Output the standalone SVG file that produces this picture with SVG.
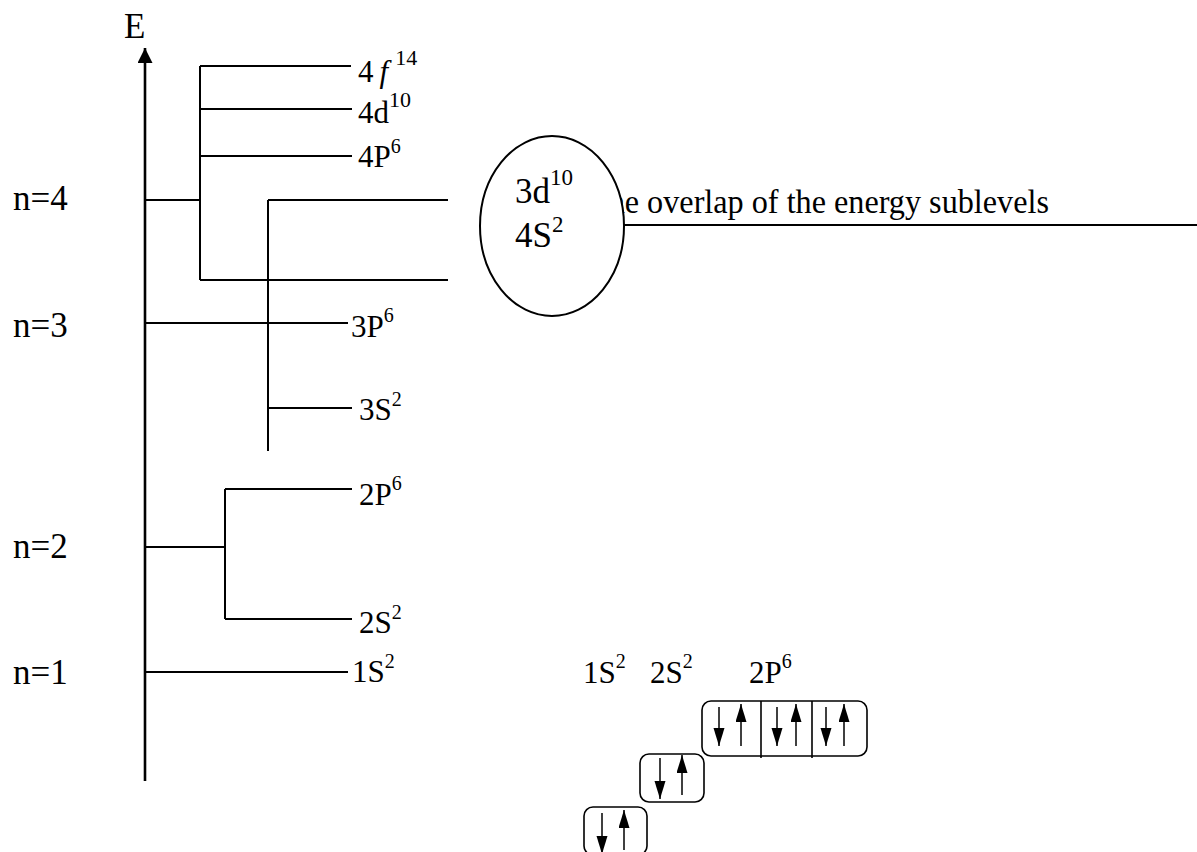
<svg xmlns="http://www.w3.org/2000/svg" width="1197" height="852" viewBox="0 0 1197 852">
  <style>
    text { font-family: "Liberation Serif", "Times New Roman", serif; fill: #000; }
    .lbl { font-size: 31px; }
    .big { font-size: 35px; }
    .sup { font-size: 20px; }
    .lvl { stroke: #000; stroke-width: 2; fill: none; }
    .axis { stroke: #000; stroke-width: 2.6; fill: none; }
    .box { stroke: #000; stroke-width: 1.6; fill: none; }
    .spin { stroke: #000; stroke-width: 1.5; fill: none; }
  </style>
  <defs>
    <marker id="axisHead" markerUnits="userSpaceOnUse" markerWidth="16" markerHeight="16" refX="15" refY="7.5" orient="auto">
      <path d="M0,0 L15,7.5 L0,15 z" fill="#000"/>
    </marker>
    <marker id="spinHead" markerUnits="userSpaceOnUse" markerWidth="19" markerHeight="12" refX="18" refY="5.5" orient="auto">
      <path d="M0,0 L18,5.5 L0,11 z" fill="#000"/>
    </marker>
  </defs>

  <rect width="1197" height="852" fill="#fff"/>

  <!-- energy axis and sublevel connectors -->
  <g id="connectors">
    <line class="axis" x1="145" y1="781" x2="145" y2="48" marker-end="url(#axisHead)"/>
    <!-- shell 4 -->
    <line class="lvl" x1="145" y1="200" x2="200" y2="200"/>
    <line class="lvl" x1="200" y1="66" x2="200" y2="280"/>
    <line class="lvl" x1="200" y1="66" x2="351" y2="66"/>
    <line class="lvl" x1="200" y1="109" x2="352" y2="109"/>
    <line class="lvl" x1="200" y1="156" x2="352" y2="156"/>
    <line class="lvl" x1="200" y1="280" x2="448" y2="280"/>
    <!-- shell 3 -->
    <line class="lvl" x1="268" y1="200" x2="268" y2="451"/>
    <line class="lvl" x1="268" y1="200" x2="448" y2="200"/>
    <line class="lvl" x1="145" y1="323" x2="348" y2="323"/>
    <line class="lvl" x1="268" y1="408" x2="352" y2="408"/>
    <!-- shell 2 -->
    <line class="lvl" x1="145" y1="547" x2="225" y2="547"/>
    <line class="lvl" x1="225" y1="489" x2="225" y2="619"/>
    <line class="lvl" x1="225" y1="489" x2="352" y2="489"/>
    <line class="lvl" x1="225" y1="619" x2="352" y2="619"/>
    <!-- shell 1 -->
    <line class="lvl" x1="145" y1="672" x2="348" y2="672"/>
  </g>

  <g id="axis-label">
    <text class="big" x="124" y="38">E</text>
  </g>

  <g id="shell-labels">
    <text class="big" x="13" y="210">n=4</text>
    <text class="big" x="13" y="337">n=3</text>
    <text class="big" x="13" y="558">n=2</text>
    <text class="big" x="13" y="684">n=1</text>
  </g>

  <g id="sublevel-4f">
    <text class="lbl" x="358" y="82">4<tspan font-style="italic" dx="6">f</tspan><tspan font-size="22" dx="7" dy="-17">14</tspan></text>
  </g>
  <g id="sublevel-4d">
    <text class="lbl" x="358" y="123">4d<tspan font-size="22" dy="-16">10</tspan></text>
  </g>
  <g id="sublevel-4p">
    <text class="lbl" x="358" y="167">4P<tspan class="sup" dy="-14">6</tspan></text>
  </g>
  <g id="sublevel-3p">
    <text class="lbl" x="351" y="337">3P<tspan class="sup" dy="-15">6</tspan></text>
  </g>
  <g id="sublevel-3s">
    <text class="lbl" x="359" y="420">3S<tspan class="sup" dy="-14">2</tspan></text>
  </g>
  <g id="sublevel-2p">
    <text class="lbl" x="359" y="505">2P<tspan class="sup" dy="-15">6</tspan></text>
  </g>
  <g id="sublevel-2s">
    <text class="lbl" x="359" y="633">2S<tspan class="sup" dy="-14">2</tspan></text>
  </g>
  <g id="sublevel-1s">
    <text class="lbl" x="352" y="682">1S<tspan class="sup" dy="-14">2</tspan></text>
  </g>

  <!-- overlap note: text sits under the ellipse, which covers its first letters -->
  <g id="overlap-note">
    <text x="589" y="213" font-size="34" textLength="460" lengthAdjust="spacingAndGlyphs">The overlap of the energy sublevels</text>
    <line class="lvl" x1="624" y1="225" x2="1197" y2="225"/>
  </g>
  <g id="overlap-ellipse">
    <ellipse cx="552" cy="226" rx="72" ry="90" fill="#fff" stroke="#000" stroke-width="2"/>
    <text class="big" x="515" y="203">3d<tspan font-size="23" dy="-18">10</tspan></text>
    <text class="big" x="515" y="247">4S<tspan font-size="23" dy="-15">2</tspan></text>
  </g>

  <!-- orbital box notation -->
  <g id="config-labels">
    <text class="lbl" x="583" y="683">1S<tspan class="sup" dy="-15">2</tspan></text>
    <text class="lbl" x="650" y="683">2S<tspan class="sup" dy="-15">2</tspan></text>
    <text class="lbl" x="749" y="683">2P<tspan class="sup" dy="-15">6</tspan></text>
  </g>

  <g id="orbital-2p">
    <rect class="box" x="702" y="701" width="165" height="55" rx="9"/>
    <line class="box" x1="761" y1="701" x2="761" y2="758"/>
    <line class="box" x1="812" y1="701" x2="812" y2="758"/>
    <line class="spin" x1="719" y1="707" x2="719" y2="746" marker-end="url(#spinHead)"/>
    <line class="spin" x1="741" y1="746" x2="741" y2="704" marker-end="url(#spinHead)"/>
    <line class="spin" x1="777" y1="707" x2="777" y2="746" marker-end="url(#spinHead)"/>
    <line class="spin" x1="796" y1="746" x2="796" y2="704" marker-end="url(#spinHead)"/>
    <line class="spin" x1="826" y1="707" x2="826" y2="746" marker-end="url(#spinHead)"/>
    <line class="spin" x1="844" y1="746" x2="844" y2="704" marker-end="url(#spinHead)"/>
  </g>

  <g id="orbital-2s">
    <rect class="box" x="640" y="754" width="64" height="48" rx="9"/>
    <line class="spin" x1="660" y1="758" x2="660" y2="799" marker-end="url(#spinHead)"/>
    <line class="spin" x1="682" y1="795" x2="682" y2="755" marker-end="url(#spinHead)"/>
  </g>

  <g id="orbital-1s">
    <rect class="box" x="584" y="807" width="63" height="48" rx="9"/>
    <line class="spin" x1="602" y1="813" x2="602" y2="854" marker-end="url(#spinHead)"/>
    <line class="spin" x1="624" y1="850" x2="624" y2="810" marker-end="url(#spinHead)"/>
  </g>
</svg>
